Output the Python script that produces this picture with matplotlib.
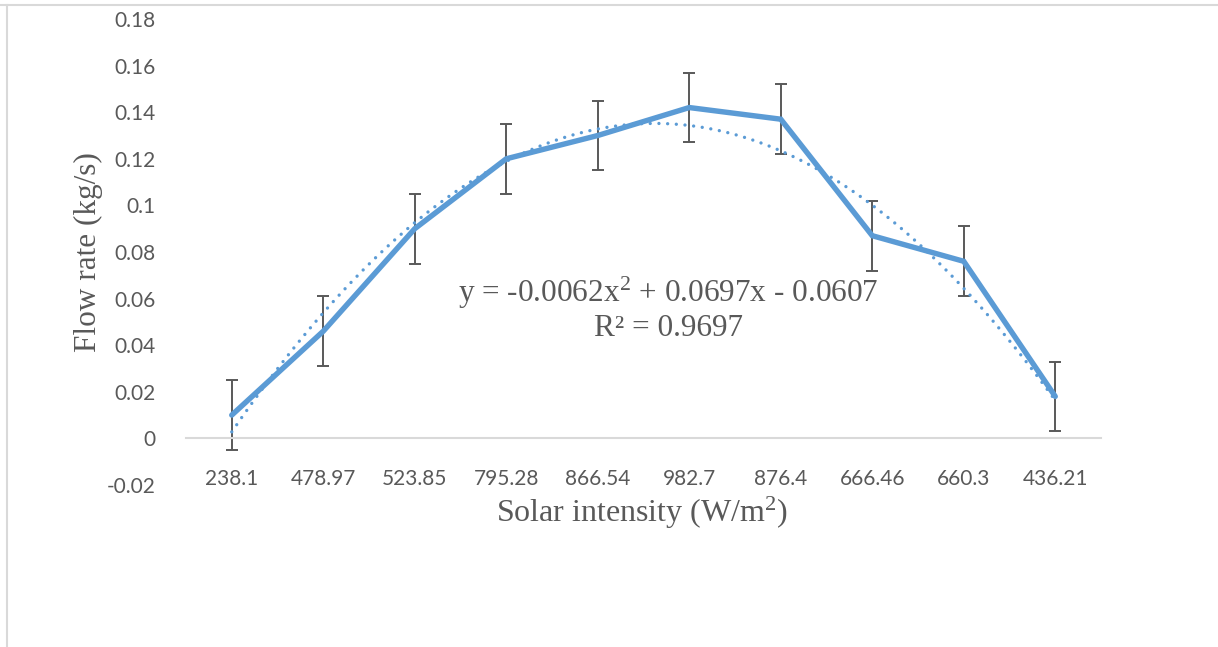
import matplotlib.pyplot as plt
import numpy as np
from matplotlib.lines import Line2D

plt.rcParams['mathtext.fontset'] = 'custom'
plt.rcParams['mathtext.rm'] = 'Liberation Serif'
plt.rcParams['mathtext.it'] = 'Liberation Serif:italic'

# data
solar = ['238.1', '478.97', '523.85', '795.28', '866.54',
         '982.7', '876.4', '666.46', '660.3', '436.21']
flow = [0.010, 0.046, 0.090, 0.120, 0.130, 0.142, 0.137, 0.087, 0.076, 0.018]
err = [0.015] * 10
# Excel polynomial trendline (x = 1..n)
trend_coef = [-0.0062, 0.0697, -0.0607]
r2 = 0.9697

blue = '#5B9BD5'
grey = '#595959'

fig = plt.figure(figsize=(12.18, 6.47), dpi=100)
ax = fig.add_axes([186/1218, 1 - 485/647, (1101-186)/1218, (485-19)/647])

x = np.arange(len(flow))
ax.errorbar(x, flow, yerr=err, fmt='none', ecolor=grey, elinewidth=1.4,
            capsize=4.5, capthick=1.4, zorder=2)
ax.plot(x, flow, color=blue, lw=3.9, solid_joinstyle='miter',
        solid_capstyle='round', zorder=3)

xt = np.linspace(1, len(flow), 300)
ax.plot(xt - 1, np.polyval(trend_coef, xt), color=blue, lw=2.4,
        linestyle=(0, (0.01, 2.6)), dash_capstyle='round', zorder=3)

ax.set_xlim(-0.5, len(flow) - 0.5)
ax.set_ylim(-0.02, 0.18)
ax.set_yticks(np.arange(-0.02, 0.181, 0.02))
ax.set_yticklabels(['-0.02', '0', '0.02', '0.04', '0.06', '0.08', '0.1',
                    '0.12', '0.14', '0.16', '0.18'])
ax.set_xticks(x)
ax.set_xticklabels(solar)

for s in ['top', 'right', 'left']:
    ax.spines[s].set_visible(False)
ax.spines['bottom'].set_position(('data', 0))
ax.spines['bottom'].set_color('#D9D9D9')
ax.spines['bottom'].set_linewidth(1.5)
ax.tick_params(axis='both', length=0, labelsize=15, labelcolor=grey)
ax.tick_params(axis='x', pad=22)
ax.tick_params(axis='y', pad=22)
for lab in ax.get_xticklabels() + ax.get_yticklabels():
    lab.set_family('Lato')

fig.text(88/1218, 1 - 252/647, 'Flow rate (kg/s)', rotation=90,
         family='Liberation Serif', fontsize=22.5, color=grey,
         ha='center', va='center')
fig.text(642/1218, 1 - 513/647, r'Solar intensity (W/m$^2$)',
         family='Liberation Serif', fontsize=23, color=grey,
         ha='center', va='center')

fig.text(668/1218, 1 - 293/647, r'y = -0.0062x$^2$ + 0.0697x - 0.0607',
         family='Liberation Serif', fontsize=22.5, color=grey,
         ha='center', va='center')
fig.text(668/1218, 1 - 328/647, 'R² = %.4f' % r2,
         family='Liberation Serif', fontsize=22.5, color=grey,
         ha='center', va='center')

# chart frame
fig.add_artist(Line2D([0, 1217/1218], [1 - 5/647] * 2, color='#D9D9D9', lw=1.5))
fig.add_artist(Line2D([7/1218] * 2, [0, 1 - 5/647], color='#D9D9D9', lw=1.5))

fig.savefig('out.png', dpi=100)
